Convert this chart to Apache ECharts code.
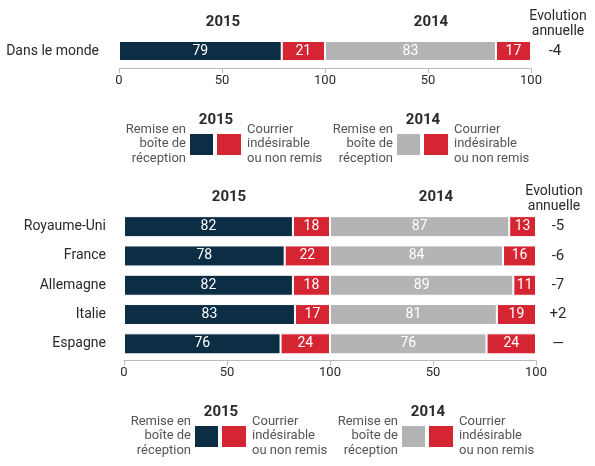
<!DOCTYPE html>
<html><head><meta charset="utf-8">
<script src="https://cdn.jsdelivr.net/npm/echarts@6/dist/echarts.min.js"></script>
<style>html,body{margin:0;padding:0;background:#fff}#c{width:595px;height:466px}</style>
</head><body><div id="c"></div>
<script>
// ---- data ----
const worldCategory = ['Dans le monde'];
const worldInbox2015 = [79];
const worldSpam2015 = [21];
const worldInbox2014 = [83];
const worldSpam2014 = [17];
const worldEvolution = ['-4'];

const countries = ['Royaume-Uni', 'France', 'Allemagne', 'Italie', 'Espagne'];
const inbox2015 = [82, 78, 82, 83, 76];
const spam2015 = [18, 22, 18, 17, 24];
const inbox2014 = [87, 84, 89, 81, 76];
const spam2014 = [13, 16, 11, 19, 24];
const evolution = ['-5', '-6', '-7', '+2', '—'];

const years = ['2015', '2014'];
const legendInboxText = 'Remise en\nboîte de\nréception';
const legendSpamText = 'Courrier\nindésirable\nou non remis';
const evolutionTitle = 'Evolution\nannuelle';

// ---- style ----
const NAVY = '#0c2e45', RED = '#d52532', GRAY = '#b4b4b6', TXT = '#2a2a2a', FONT = 'Roboto';

const chart = echarts.init(document.getElementById('c'), null, {renderer: 'canvas'});

function xAxisCfg(gridIndex, offset) {
  return {
    type: 'value', gridIndex, min: 0, max: 200, interval: 50, offset,
    axisLine: {show: true, lineStyle: {color: '#bbb', width: 1}},
    axisTick: {show: true, length: 5, lineStyle: {color: '#bbb'}},
    splitLine: {show: false},
    axisLabel: {color: TXT, fontSize: 13, fontFamily: FONT, margin: 6,
      formatter: v => String(v > 100 ? v - 100 : v)}
  };
}
function yAxisCat(gridIndex, data, margin) {
  return {
    type: 'category', gridIndex, data, inverse: true,
    axisLine: {show: false}, axisTick: {show: false},
    axisLabel: {color: TXT, fontSize: 14, fontFamily: FONT, margin}
  };
}
function yAxisEvo(gridIndex, data, margin) {
  return {
    type: 'category', gridIndex, data, inverse: true, position: 'right',
    axisLine: {show: false}, axisTick: {show: false},
    axisLabel: {color: TXT, fontSize: 15, fontFamily: FONT, margin, align: 'center'}
  };
}
function barSeries(idx, stack, data, color, barWidth) {
  return {
    type: 'bar', xAxisIndex: idx, yAxisIndex: idx * 2, stack, data, barWidth,
    itemStyle: {color, borderColor: '#fff', borderWidth: 1},
    label: {show: true, position: 'inside', color: '#fff', fontSize: 14, fontFamily: FONT},
    silent: true, animation: false
  };
}

function legend(cx, cy, year, inboxColor) {
  const els = [];
  els.push({type: 'text', x: cx, y: cy - 24, style: {text: year, fill: TXT, font: 'bold 15px ' + FONT, align: 'center', verticalAlign: 'middle'}});
  els.push({type: 'rect', shape: {x: cx - 26, y: cy - 10, width: 23, height: 21}, style: {fill: inboxColor}});
  els.push({type: 'rect', shape: {x: cx + 1, y: cy - 10, width: 24, height: 21}, style: {fill: RED}});
  els.push({type: 'text', x: cx - 30, y: cy, style: {text: legendInboxText, fill: '#555', font: '13px ' + FONT, align: 'right', verticalAlign: 'middle', lineHeight: 14.5}});
  els.push({type: 'text', x: cx + 31, y: cy, style: {text: legendSpamText, fill: '#555', font: '13px ' + FONT, align: 'left', verticalAlign: 'middle', lineHeight: 14.5}});
  return els;
}
function title(x, y, text) {
  return {type: 'text', x, y, style: {text, fill: TXT, font: 'bold 15px ' + FONT, align: 'center', verticalAlign: 'middle'}};
}
function evoTitle(x, y) {
  return {type: 'text', x, y, style: {text: evolutionTitle, fill: TXT, font: '14px ' + FONT, align: 'center', verticalAlign: 'middle', lineHeight: 15}};
}

const option = {
  backgroundColor: '#fff',
  animation: false,
  grid: [
    {left: 119, right: 64, top: 41, height: 20},
    {left: 124, right: 59, top: 212, height: 146.5}
  ],
  xAxis: [xAxisCfg(0, 7), xAxisCfg(1, 2)],
  yAxis: [
    yAxisCat(0, worldCategory, 20), yAxisEvo(0, worldEvolution, 24),
    yAxisCat(1, countries, 18), yAxisEvo(1, evolution, 22)
  ],
  series: [
    barSeries(0, 'w', worldInbox2015, NAVY, 20),
    barSeries(0, 'w', worldSpam2015, RED, 20),
    barSeries(0, 'w', worldInbox2014, GRAY, 20),
    barSeries(0, 'w', worldSpam2014, RED, 20),
    barSeries(1, 'c', inbox2015, NAVY, 21),
    barSeries(1, 'c', spam2015, RED, 21),
    barSeries(1, 'c', inbox2014, GRAY, 21),
    barSeries(1, 'c', spam2014, RED, 21)
  ],
  graphic: [
    title(223, 22, years[0]), title(431, 22, years[1]), evoTitle(558, 24),
    title(229, 197, years[0]), title(436, 197, years[1]), evoTitle(554, 199),
    ...legend(216, 144, years[0], NAVY),
    ...legend(423, 144, years[1], GRAY),
    ...legend(221, 436, years[0], NAVY),
    ...legend(428, 436, years[1], GRAY)
  ]
};
chart.setOption(option);
</script></body></html>
